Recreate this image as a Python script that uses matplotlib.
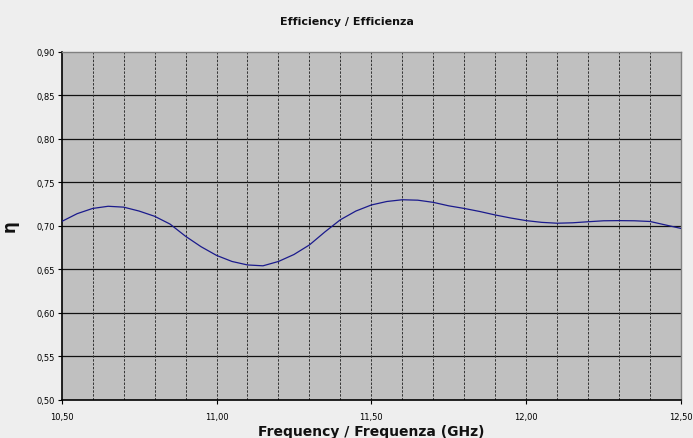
import matplotlib.pyplot as plt
import numpy as np

freq_ghz = [10.50, 10.55, 10.60, 10.65, 10.70, 10.75, 10.80, 10.85, 10.90, 10.95,
            11.00, 11.05, 11.10, 11.15, 11.20, 11.25, 11.30, 11.35, 11.40, 11.45,
            11.50, 11.55, 11.60, 11.65, 11.70, 11.75, 11.80, 11.85, 11.90, 11.95,
            12.00, 12.05, 12.10, 12.15, 12.20, 12.25, 12.30, 12.35, 12.40, 12.45,
            12.50]
efficiency = [0.705, 0.714, 0.720, 0.7225, 0.7215, 0.717, 0.711, 0.702, 0.688, 0.676,
              0.666, 0.659, 0.655, 0.654, 0.659, 0.667, 0.678, 0.693, 0.707, 0.717,
              0.724, 0.728, 0.730, 0.7295, 0.727, 0.723, 0.720, 0.7165, 0.7125, 0.709,
              0.706, 0.704, 0.703, 0.7035, 0.7047, 0.7058, 0.706, 0.7058, 0.705, 0.701,
              0.697]

x_major = [10.5, 11.0, 11.5, 12.0, 12.5]
y_major = [0.50, 0.55, 0.60, 0.65, 0.70, 0.75, 0.80, 0.85, 0.90]

fig = plt.figure(figsize=(6.93, 4.39), dpi=100)
fig.patch.set_facecolor('#EEEEEE')
ax = fig.add_axes([0.089, 0.0873, 0.8937, 0.792])
ax.set_facecolor('#C0C0C0')

ax.set_xlim(10.5, 12.5)
ax.set_ylim(0.5, 0.9)

# horizontal solid grid
for yv in y_major[1:-1]:
    ax.axhline(yv, color='#111111', lw=0.9, zorder=1)
# vertical dashed grid every 0.1 GHz
for xv in np.arange(10.6, 12.45, 0.1):
    ax.axvline(xv, color='#333333', lw=0.7, ls=(0, (2.5, 1.5)), zorder=1)

ax.plot(freq_ghz, efficiency, color='#1a1a8c', lw=0.9, zorder=3)

ax.set_xticks(x_major)
ax.set_xticklabels([f"{v:.2f}".replace('.', ',') for v in x_major])
ax.set_yticks(y_major)
ax.set_yticklabels([f"{v:.2f}".replace('.', ',') for v in y_major])
ax.tick_params(axis='both', labelsize=6, color='black', length=3, width=0.8, pad=2)
ax.tick_params(axis='x', pad=6)

for side in ['left', 'bottom']:
    ax.spines[side].set_color('black')
    ax.spines[side].set_linewidth(1.2)
for side in ['top', 'right']:
    ax.spines[side].set_color('#808080')
    ax.spines[side].set_linewidth(1.0)

fig.text(0.5005, 0.950, 'Efficiency / Efficienza', ha='center', va='center',
         fontsize=8, fontweight='bold', color='#111111')
fig.text(0.536, 0.016, 'Frequency / Frequenza (GHz)', ha='center', va='center',
         fontsize=10, fontweight='bold', color='#111111')
fig.text(0.014, 0.485, 'η', ha='center', va='center', rotation=90,
         fontsize=12, fontweight='bold', color='#111111')

fig.savefig('out.png', dpi=100, facecolor=fig.get_facecolor())
